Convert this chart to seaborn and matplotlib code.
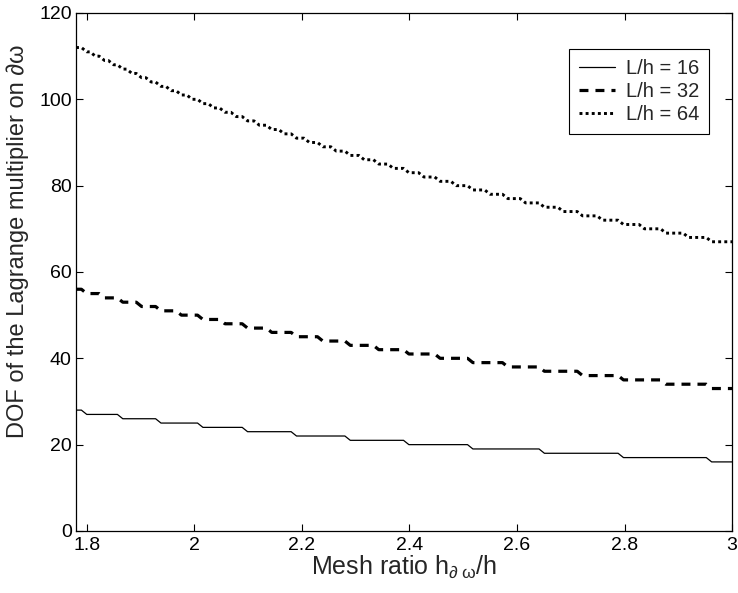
import numpy as np
import pandas as pd
import matplotlib
matplotlib.use("Agg")
import matplotlib.pyplot as plt
import seaborn as sns

# ---- data (step functions: value held until the next breakpoint) ----
series_labels = ["L/h = 16", "L/h = 32", "L/h = 64"]

# L/h = 16
vals_16 = [28, 27, 26, 25, 24, 23, 22, 21, 20, 19, 18, 17, 16]
breaks_16 = [1.795, 1.862, 1.933, 2.011, 2.094, 2.185, 2.285, 2.394, 2.513, 2.646, 2.793, 2.957]

# L/h = 32
vals_32 = [56, 55, 54, 53, 52, 51, 50, 49, 48, 47, 46, 45, 44, 43, 42, 41, 40,
           39, 38, 37, 36, 35, 34, 33]
breaks_32 = [1.795, 1.828, 1.862, 1.897, 1.933, 1.971, 2.011, 2.052, 2.094, 2.139,
             2.185, 2.234, 2.285, 2.338, 2.394, 2.452, 2.513, 2.578, 2.646, 2.717,
             2.793, 2.872, 2.957]

# L/h = 64
vals_64 = [112, 111, 110, 109, 108, 107, 106, 105, 104, 103, 102, 101, 100, 99, 98,
           97, 96, 95, 94, 93, 92, 91, 90, 89, 88, 87, 86, 85, 84, 83, 82, 81, 80,
           79, 78, 77, 76, 75, 74, 73, 72, 71, 70, 69, 68, 67]
breaks_64 = [1.795, 1.811, 1.828, 1.845, 1.862, 1.879, 1.897, 1.915, 1.933, 1.952,
             1.971, 1.991, 2.011, 2.031, 2.052, 2.073, 2.094, 2.116, 2.139, 2.162,
             2.185, 2.209, 2.234, 2.259, 2.285, 2.311, 2.338, 2.365, 2.394, 2.422,
             2.452, 2.482, 2.513, 2.545, 2.578, 2.611, 2.646, 2.681, 2.717, 2.754,
             2.793, 2.832, 2.872, 2.914, 2.957]

x_start, x_end = 1.78, 3.0
x_ticks = [1.8, 2.0, 2.2, 2.4, 2.6, 2.8, 3.0]
x_ticklabels = ["1.8", "2", "2.2", "2.4", "2.6", "2.8", "3"]
y_ticks = [0, 20, 40, 60, 80, 100, 120]


def step_frame(vals, breaks, label, ramp=0.01):
    xs, ys = [x_start], [vals[0]]
    for i, b in enumerate(breaks):
        xs += [b - ramp / 2, b + ramp / 2]
        ys += [vals[i], vals[i + 1]]
    xs.append(x_end)
    ys.append(vals[-1])
    return pd.DataFrame({"x": xs, "y": ys, "series": label})


df = pd.concat([
    step_frame(vals_16, breaks_16, series_labels[0]),
    step_frame(vals_32, breaks_32, series_labels[1]),
    step_frame(vals_64, breaks_64, series_labels[2]),
], ignore_index=True)

sns.set_style("ticks")
plt.rcParams["font.family"] = ["Liberation Sans", "DejaVu Sans"]
plt.rcParams["mathtext.fontset"] = "custom"
plt.rcParams["mathtext.rm"] = "Liberation Sans"
plt.rcParams["mathtext.it"] = "Liberation Sans"
plt.rcParams["mathtext.default"] = "rm"

fig = plt.figure(figsize=(7.38, 5.93), dpi=100)
ax = fig.add_axes([0.103, 0.1046, 0.889, 0.8735])

styles = {
    series_labels[0]: dict(lw=0.9, ls="-"),
    series_labels[1]: dict(lw=2.3, ls=(0, (2.8, 2.2))),
    series_labels[2]: dict(lw=2.1, ls=(0, (1.0, 1.1))),
}
for lab in series_labels:
    sub = df[df["series"] == lab]
    sns.lineplot(data=sub, x="x", y="y", ax=ax, color="black", estimator=None,
                 sort=False, label=lab, linewidth=styles[lab]["lw"],
                 linestyle=styles[lab]["ls"])

ax.set_xlim(x_start, x_end)
ax.set_ylim(0, 120)
ax.set_xticks(x_ticks)
ax.set_xticklabels(x_ticklabels)
ax.set_yticks(y_ticks)
ax.tick_params(direction="in", length=5, width=0.8, top=True, right=True,
               labelsize=14, colors="black")
ax.tick_params(axis="x", pad=4)
ax.tick_params(axis="y", pad=3)
for sp in ax.spines.values():
    sp.set_visible(True)
    sp.set_linewidth(0.9)
    sp.set_color("black")

ax.set_xlabel(r"Mesh ratio h$_{\partial\;\omega}$/h", fontsize=18, labelpad=0)
ax.set_ylabel("DOF of the Lagrange multiplier on ∂ω", fontsize=17)
ax.yaxis.set_label_coords(-0.071, 0.56)

leg = ax.legend(loc="upper right", bbox_to_anchor=(0.965, 0.930), borderaxespad=0,
                fontsize=14.5, frameon=True, fancybox=False, edgecolor="black",
                framealpha=1, handlelength=1.75, labelspacing=0.2,
                borderpad=0.5, handletextpad=0.55)
leg.get_frame().set_linewidth(0.8)

fig.savefig("out.png", dpi=100)
